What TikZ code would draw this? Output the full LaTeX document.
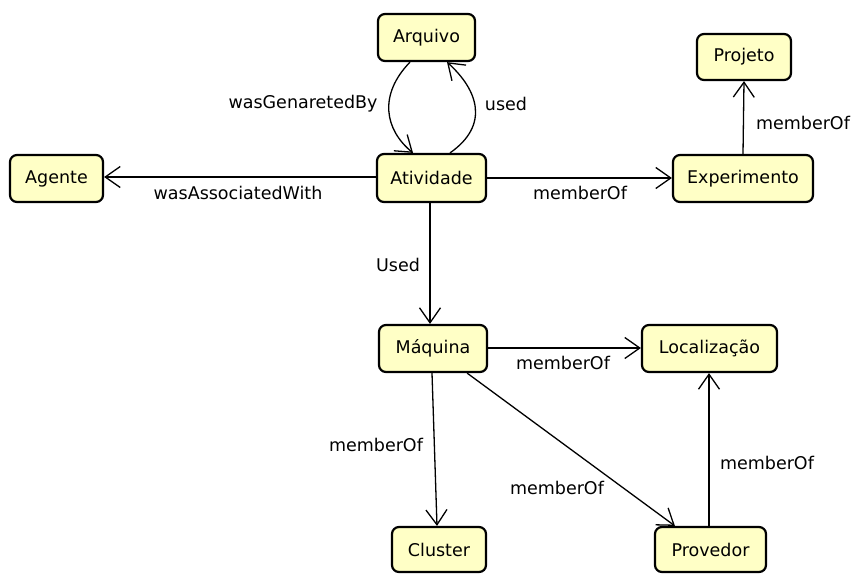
\documentclass[tikz,border=0pt]{standalone}
\usepackage{fontspec}
\setmainfont{DejaVu Sans}
\usetikzlibrary{arrows.meta}
\definecolor{boxfill}{HTML}{FFFFC6}
\tikzset{
  entity/.style={draw=black, line width=2.2pt, fill=boxfill, rounded corners=7pt,
    inner sep=0pt, font=\fontsize{17.5}{20}\selectfont},
  rel/.style={draw=black, line width=1.3pt,
    -{Straight Barb[length=15pt, width=21pt, line width=1.3pt]}},
  lbl/.style={inner sep=0pt, font=\fontsize{17.5}{20}\selectfont}
}
\begin{document}
\begin{tikzpicture}[x=1pt, y=-1pt]
  \useasboundingbox (0,0) rectangle (854,574);

  % entities
  \node[entity, minimum width=97pt, minimum height=47pt] (arquivo) at (426.5,37.5) {Arquivo};
  \node[entity, minimum width=109pt, minimum height=48pt] (atividade) at (431.5,178) {Atividade};
  \node[entity, minimum width=93pt, minimum height=47pt] (agente) at (56.5,178.5) {Agente};
  \node[entity, minimum width=94pt, minimum height=46pt] (projeto) at (744,57) {Projeto};
  \node[entity, minimum width=140pt, minimum height=47pt] (experimento) at (743,178.5) {Experimento};
  \node[entity, minimum width=108pt, minimum height=47pt] (maquina) at (433,348.5) {Máquina};
  \node[entity, minimum width=135pt, minimum height=47pt] (localizacao) at (709.5,348.5) {Localização};
  \node[entity, minimum width=94pt, minimum height=45pt] (cluster) at (439,549.5) {Cluster};
  \node[entity, minimum width=111pt, minimum height=45pt] (provedor) at (710.5,549.5) {Provedor};

  % relations
  \draw[rel] ([xshift=-16.5pt]arquivo.south) .. controls +(-32,33) and +(-28,-23) .. ([xshift=-18.5pt]atividade.north);
  \draw[rel] ([xshift=18.5pt]atividade.north) .. controls +(40,-28) and +(31,28) .. ([xshift=20.5pt]arquivo.south);
  \draw[rel] (atividade.west |- 0,177) -- (agente.east |- 0,177);
  \draw[rel] (atividade.east |- 0,178) -- (experimento.west |- 0,178);
  \draw[rel] (experimento.north) -- (projeto.south);
  \draw[rel] ([xshift=-1.5pt]atividade.south) -- ([xshift=-3pt]maquina.north);
  \draw[rel] (maquina.east |- 0,348) -- (localizacao.west |- 0,348);
  \draw[rel] ([xshift=-1pt]maquina.south) -- ([xshift=-2pt]cluster.north);
  \draw[rel] ([xshift=-21pt]maquina.south east) -- ([xshift=21pt]provedor.north west);
  \draw[rel] ([xshift=-1.5pt]provedor.north) -- ([xshift=-0.5pt]localizacao.south);

  % relation labels
  \node[lbl] (l1) at (303,104) {wasGenaretedBy};
  \node[lbl] (l2) at (506,104) {used};
  \node[lbl] (l3) at (238,193) {wasAssociatedWith};
  \node[lbl] (l4) at (580,193) {memberOf};
  \node[lbl] (l5) at (803,123) {memberOf};
  \node[lbl] (l6) at (398,265) {Used};
  \node[lbl] (l7) at (563,363) {memberOf};
  \node[lbl] (l8) at (376,445) {memberOf};
  \node[lbl] (l9) at (557,488) {memberOf};
  \node[lbl] (l10) at (767,463) {memberOf};
\end{tikzpicture}
\end{document}
